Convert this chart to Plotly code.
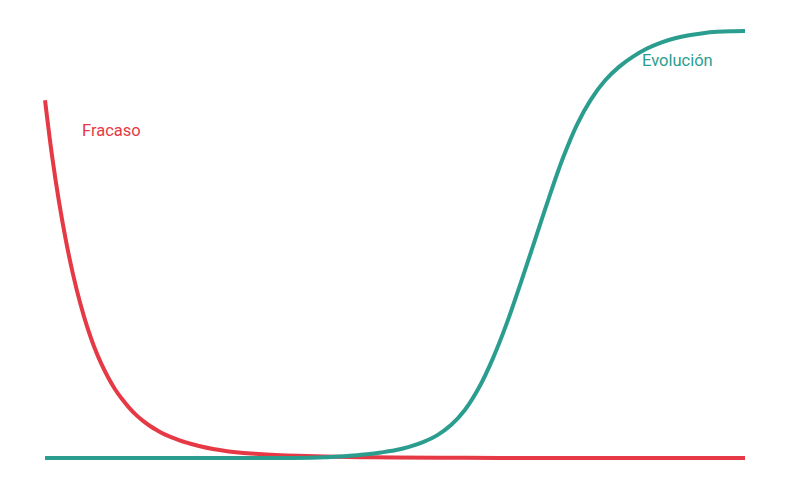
import plotly.graph_objects as go

RED = "#e63946"
GREEN = "#2a9d8f"

# failure curve: sharp drop, then flat on the floor
fracaso_x = [0, 1, 2, 3, 4, 5, 6, 7, 8, 9, 10, 11, 12, 13, 14, 15, 16, 17, 18, 20, 22, 24, 26,
             28, 30, 33, 36, 40, 45, 50, 60, 70, 80, 90, 100]
fracaso_y = [83.8, 70.8, 60.0, 50.8, 43.0, 36.4, 30.8, 26.1, 22.2, 18.9, 16.1, 13.8, 11.8, 10.1,
             8.7, 7.5, 6.5, 5.6, 4.9, 3.7, 2.8, 2.1, 1.6, 1.25, 1.0, 0.7, 0.5, 0.33, 0.2, 0.1,
             0.03, 0, 0, 0, 0]

# evolution curve: flat, then an S-shaped climb to the top
evolucion_x = [0, 6, 12, 18, 24, 30, 34, 38, 40, 42, 44, 46, 48, 50, 52, 54, 56, 58, 60, 62, 64,
               66, 68, 70, 72, 74, 76, 78, 80, 82, 84, 86, 88, 90, 92, 94, 96, 98, 100]
evolucion_y = [0, 0, 0, 0, 0, 0, 0, 0.05, 0.15, 0.35, 0.6, 0.9, 1.3, 1.8, 2.6, 3.7, 5.3,
               7.7, 11.3, 16.5, 23.4, 31.7, 41.2, 51.1, 61, 70.3, 78.1, 84.0, 88.4, 91.6, 94.0,
               95.9, 97.3, 98.3, 99.0, 99.5, 99.8, 99.95, 100]

labels = ["Fracaso", "Evolución"]
label_x = [5, 85]
label_y = [76.6, 93.2]

fig = go.Figure()
fig.add_trace(go.Scatter(x=fracaso_x, y=fracaso_y, mode="lines", line_shape="spline",
                         line={"color": RED, "width": 4}, hoverinfo="skip"))
fig.add_trace(go.Scatter(x=evolucion_x, y=evolucion_y, mode="lines", line_shape="spline",
                         line={"color": GREEN, "width": 4}, hoverinfo="skip"))

for text, x, y, color in zip(labels, label_x, label_y, [RED, GREEN]):
    fig.add_annotation(x=x, y=y, text=text, showarrow=False, xanchor="left",
                       font={"family": "Roboto", "size": 16.5, "color": color})

# the page adds an 8px body margin, so the ranges are shifted to compensate
fig.update_layout(
    width=790,
    height=490,
    margin={"l": 0, "r": 0, "t": 0, "b": 0},
    paper_bgcolor="white",
    plot_bgcolor="white",
    showlegend=False,
    xaxis={"range": [-5.29, 107.57], "visible": False, "fixedrange": True},
    yaxis={"range": [-9.37, 105.39], "visible": False, "fixedrange": True},
)

fig.write_html("out.html")
